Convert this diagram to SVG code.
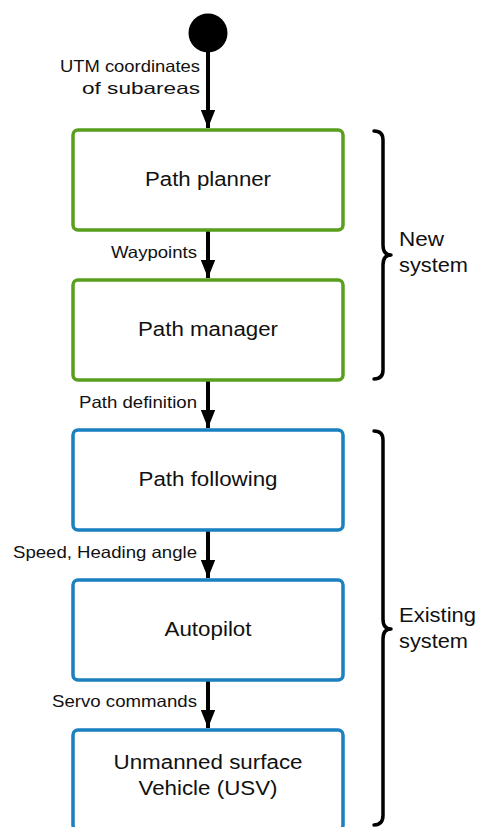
<svg xmlns="http://www.w3.org/2000/svg" width="479" height="827" viewBox="0 0 479 827">
  <style>
    .box { fill: #ffffff; stroke-width: 3.5; }
    .new { stroke: #5a9e1e; }
    .old { stroke: #1a80c0; }
    .node { font-family: "Liberation Sans", Arial, sans-serif; font-size: 20px; fill: #111; text-anchor: middle; }
    .lbl { font-family: "Liberation Sans", Arial, sans-serif; font-size: 16.5px; fill: #111; text-anchor: end; }
    .grp { font-family: "Liberation Sans", Arial, sans-serif; font-size: 20px; fill: #111; }
    .wire { stroke: #000; stroke-width: 4; fill: none; }
    .brace { stroke: #000; stroke-width: 3.5; fill: none; stroke-linejoin: round; stroke-linecap: round; }
  </style>
  <defs>
    <marker id="arrow" markerWidth="4.5" markerHeight="3.6" refX="4.5" refY="1.8" orient="auto" markerUnits="strokeWidth">
      <path d="M0,0 L4.5,1.8 L0,3.6 Z" fill="#000"/>
    </marker>
  </defs>
  <rect width="479" height="827" fill="#ffffff"/>

  <g id="connectors">
    <circle id="start" cx="208" cy="33" r="19.5" fill="#000"/>
    <path class="wire" d="M208,50 V128" marker-end="url(#arrow)"/>
    <path class="wire" d="M208,230 V278" marker-end="url(#arrow)"/>
    <path class="wire" d="M208,380 V428" marker-end="url(#arrow)"/>
    <path class="wire" d="M208,530 V578" marker-end="url(#arrow)"/>
    <path class="wire" d="M208,680 V728" marker-end="url(#arrow)"/>
    <text class="lbl" x="200" y="72" textLength="140" lengthAdjust="spacingAndGlyphs">UTM coordinates</text>
    <text class="lbl" x="200" y="94" textLength="118" lengthAdjust="spacingAndGlyphs">of subareas</text>
    <text class="lbl" x="197" y="258" textLength="86" lengthAdjust="spacingAndGlyphs">Waypoints</text>
    <text class="lbl" x="197" y="408" textLength="118" lengthAdjust="spacingAndGlyphs">Path definition</text>
    <text class="lbl" x="197" y="558" textLength="184" lengthAdjust="spacingAndGlyphs">Speed, Heading angle</text>
    <text class="lbl" x="197" y="707" textLength="145" lengthAdjust="spacingAndGlyphs">Servo commands</text>
  </g>

  <g id="path-planner">
    <rect class="box new" x="73" y="130" width="270" height="100" rx="5"/>
    <text class="node" x="208" y="186" textLength="126" lengthAdjust="spacingAndGlyphs">Path planner</text>
  </g>
  <g id="path-manager">
    <rect class="box new" x="73" y="280" width="270" height="100" rx="5"/>
    <text class="node" x="208" y="336" textLength="140" lengthAdjust="spacingAndGlyphs">Path manager</text>
  </g>
  <g id="path-following">
    <rect class="box old" x="73" y="430" width="270" height="100" rx="5"/>
    <text class="node" x="208" y="486" textLength="139" lengthAdjust="spacingAndGlyphs">Path following</text>
  </g>
  <g id="autopilot">
    <rect class="box old" x="73" y="580" width="270" height="100" rx="5"/>
    <text class="node" x="208" y="636" textLength="87" lengthAdjust="spacingAndGlyphs">Autopilot</text>
  </g>
  <g id="usv">
    <rect class="box old" x="73" y="730" width="270" height="100" rx="5"/>
    <text class="node" x="208" y="769" textLength="189" lengthAdjust="spacingAndGlyphs">Unmanned surface</text>
    <text class="node" x="208" y="795" textLength="139" lengthAdjust="spacingAndGlyphs">Vehicle (USV)</text>
  </g>

  <g id="new-system">
    <path class="brace" d="M374,131 Q383,131 383,140 V245 Q383,255 391,255 Q383,255 383,265 V370 Q383,379 374,379"/>
    <text class="grp" x="399" y="246" textLength="45" lengthAdjust="spacingAndGlyphs">New</text>
    <text class="grp" x="399" y="272" textLength="69" lengthAdjust="spacingAndGlyphs">system</text>
  </g>
  <g id="existing-system">
    <path class="brace" d="M374,431 Q383,431 383,440 V619 Q383,629 391,629 Q383,629 383,639 V815 Q383,825 374,825"/>
    <text class="grp" x="399" y="622" textLength="77" lengthAdjust="spacingAndGlyphs">Existing</text>
    <text class="grp" x="399" y="648" textLength="69" lengthAdjust="spacingAndGlyphs">system</text>
  </g>
</svg>
